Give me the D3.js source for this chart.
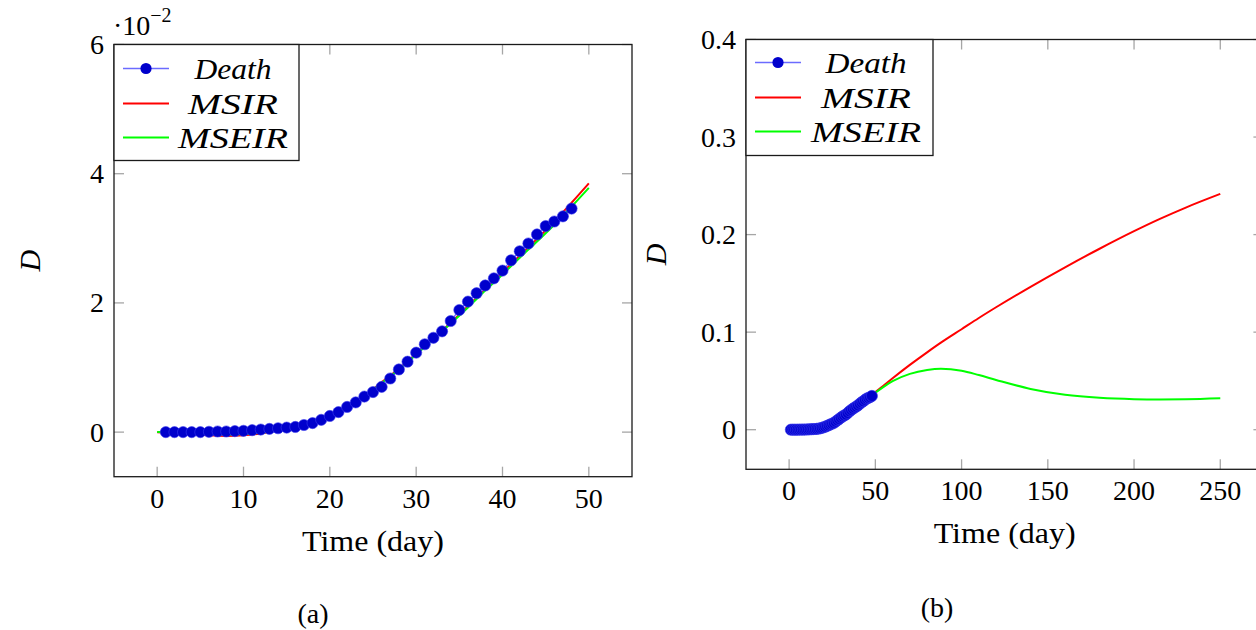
<!DOCTYPE html>
<html><head><meta charset="utf-8">
<script src="https://cdn.jsdelivr.net/npm/d3@7"></script>
<style>
html,body{margin:0;padding:0;background:#fff;}
</style></head>
<body><svg id="c" width="1256" height="630"></svg>
<script>
// ---- data ----
const deathDays = [1,2,3,4,5,6,7,8,9,10,11,12,13,14,15,16,17,18,19,20,21,22,23,24,25,26,27,28,29,30,31,32,33,34,35,36,37,38,39,40,41,42,43,44,45,46,47,48];
const deathVals = [0,0,0,0,0,0.00005,0.0001,0.0001,0.00015,0.0002,0.0003,0.0004,0.0005,0.0006,0.0007,0.0008,0.0011,0.0014,0.0019,0.0025,0.0031,0.0039,0.0046,0.0055,0.0062,0.0070,0.0083,0.0097,0.0109,0.0123,0.0136,0.0146,0.0156,0.0172,0.0189,0.0202,0.0215,0.0227,0.0238,0.0250,0.0266,0.0280,0.0292,0.0306,0.0319,0.0326,0.0334,0.0346];
const modelDays = [0,2,4,6,8,10,12,14,16,18,20,22,24,26,28,30,32,34,36,38,40,42,44,46,48,50,55,60,70,80,88,100,110,120,140,160,180,200,215,230,250];
const msirVals = [0,-0.0001,-0.0003,-0.0005,-0.0006,-0.0005,-0.0002,0.0003,0.0009,0.0017,0.0027,0.0040,0.0056,0.0077,0.0098,0.0121,0.0145,0.0169,0.0195,0.0221,0.0247,0.0273,0.0299,0.0326,0.0355,0.0385,0.0456,0.0527,0.0664,0.0793,0.0892,0.1030,0.1145,0.1255,0.1465,0.1665,0.1855,0.2035,0.2161,0.2277,0.2417];
const mseirVals = [0,0,-0.0001,-0.0003,-0.0004,-0.0003,-0.0001,0.0003,0.0009,0.0017,0.0027,0.0040,0.0056,0.0076,0.0097,0.0120,0.0144,0.0168,0.0193,0.0219,0.0244,0.0270,0.0295,0.0321,0.0349,0.0378,0.0442,0.0497,0.0572,0.0613,0.0626,0.0605,0.0560,0.0510,0.0418,0.0358,0.0327,0.0313,0.0310,0.0312,0.0322];
const leftXTicks = [0,10,20,30,40,50];
const leftYTicks = [0,0.02,0.04,0.06];
const leftYTickLabels = ["0","2","4","6"];
const rightXTicks = [0,50,100,150,200,250];
const rightYTicks = [0,0.1,0.2,0.3,0.4];
const rightYTickLabels = ["0","0.1","0.2","0.3","0.4"];
const legendNames = ["Death","MSIR","MSEIR"];
const seriesColors = {death:"#0000cc", deathLine:"#6b6bff", msir:"#ff0000", mseir:"#00ff00"};
const FONT = "'Liberation Serif', 'Times New Roman', 'DejaVu Serif', serif";

const svg = d3.select("#c");

function txt(sel){ return sel.append("text").attr("font-family",FONT).attr("fill","#000"); }

function panel(cfg){
  const g = svg.append("g");
  const x = d3.scaleLinear().domain(cfg.xDomain).range([cfg.left, cfg.right]);
  const y = d3.scaleLinear().domain(cfg.yDomain).range([cfg.bottom, cfg.top]);
  const clipId = "clip"+cfg.id;
  svg.append("clipPath").attr("id",clipId).append("rect")
    .attr("x",cfg.left).attr("y",cfg.top).attr("width",cfg.right-cfg.left).attr("height",cfg.bottom-cfg.top);
  const tickLen = 10, tickCol = "#a6a6a6";
  const tg = g.append("g").attr("stroke",tickCol).attr("stroke-width",1.3);
  cfg.xTicks.forEach(t=>{
    tg.append("line").attr("x1",x(t)).attr("x2",x(t)).attr("y1",cfg.bottom).attr("y2",cfg.bottom-tickLen);
    tg.append("line").attr("x1",x(t)).attr("x2",x(t)).attr("y1",cfg.top).attr("y2",cfg.top+tickLen);
  });
  cfg.yTicks.forEach(t=>{
    tg.append("line").attr("x1",cfg.left).attr("x2",cfg.left+tickLen).attr("y1",y(t)).attr("y2",y(t));
    tg.append("line").attr("x1",cfg.right).attr("x2",cfg.right-tickLen).attr("y1",y(t)).attr("y2",y(t));
  });
  cfg.xTicks.forEach(t=>{
    txt(g).attr("x",x(t)).attr("y",cfg.bottom+31).attr("text-anchor","middle")
      .attr("font-size",28).text(t);
  });
  cfg.yTicks.forEach((t,i)=>{
    txt(g).attr("x",cfg.left-10).attr("y",y(t)+9.5).attr("text-anchor","end")
      .attr("font-size",28).text(cfg.yLabels[i]);
  });
  const pg = g.append("g").attr("clip-path",`url(#${clipId})`);
  const md = modelDays.map((d,i)=>({d, a:msirVals[i], b:mseirVals[i]})).filter(p=>p.d<=cfg.maxDay);
  const line = d3.line().curve(d3.curveMonotoneX);
  pg.append("path").attr("fill","none").attr("stroke",seriesColors.deathLine).attr("stroke-width",1.3)
    .attr("d", line(deathDays.map((d,i)=>[x(d), y(deathVals[i])])));
  pg.append("path").attr("fill","none").attr("stroke",seriesColors.msir).attr("stroke-width",2)
    .attr("d", line(md.map(p=>[x(p.d), y(p.a)])));
  pg.append("path").attr("fill","none").attr("stroke",seriesColors.mseir).attr("stroke-width",2)
    .attr("d", line(md.map(p=>[x(p.d), y(p.b)])));
  pg.selectAll("circle.m").data(deathDays).enter().append("circle")
    .attr("cx",d=>x(d)).attr("cy",(d,i)=>y(deathVals[i])).attr("r",5.6)
    .attr("fill",seriesColors.death).attr("stroke","#3a3aee").attr("stroke-width",0.6);
  g.append("rect").attr("x",cfg.left).attr("y",cfg.top).attr("width",cfg.right-cfg.left).attr("height",cfg.bottom-cfg.top)
    .attr("fill","none").attr("stroke","#1a1a1a").attr("stroke-width",1.3);
  const L = cfg.legend;
  const lg = g.append("g");
  lg.append("rect").attr("x",cfg.left).attr("y",cfg.top).attr("width",L.w).attr("height",L.h)
    .attr("fill","#fff").attr("stroke","#1a1a1a").attr("stroke-width",1.3);
  const cols = [seriesColors.deathLine, seriesColors.msir, seriesColors.mseir];
  legendNames.forEach((n,i)=>{
    const yy = cfg.top + L.rows[i];
    lg.append("line").attr("x1",L.lx1).attr("x2",L.lx2).attr("y1",yy).attr("y2",yy)
      .attr("stroke",cols[i]).attr("stroke-width", i===0?1.3:2);
    if(i===0) lg.append("circle").attr("cx",(L.lx1+L.lx2)/2).attr("cy",yy).attr("r",5.6).attr("fill",seriesColors.death);
    txt(lg).attr("x",L.tx).attr("y",yy+10).attr("text-anchor","middle")
      .attr("font-size",30).attr("font-style","italic")
      .attr("textLength",L.tw[i]).attr("lengthAdjust","spacingAndGlyphs").text(n);
  });
  txt(g).attr("x",(cfg.left+cfg.right)/2).attr("y",cfg.bottom+74).attr("text-anchor","middle")
    .attr("font-size",29).attr("textLength",142).attr("lengthAdjust","spacingAndGlyphs").text("Time (day)");
  txt(g).attr("transform",`translate(${cfg.ylabX},${(cfg.top+cfg.bottom)/2}) rotate(-90)`)
    .attr("text-anchor","middle").attr("dy",10).attr("font-size",30).attr("font-style","italic").text("D");
  txt(g).attr("x",cfg.capX).attr("y",cfg.capY).attr("text-anchor","middle").attr("font-size",28).text(cfg.caption);
  return {g,x,y};
}

const A = panel({id:"a", left:114, right:632, top:44.5, bottom:476.7, maxDay:50,
  xDomain:[-5,55], yDomain:[-0.0069,0.06], xTicks:leftXTicks, yTicks:leftYTicks, yLabels:leftYTickLabels,
  legend:{w:185, h:116, rows:[24,59,93], lx1:123, lx2:169, tx:233, tw:[77,90,110]},
  ylabX:30, capX:313, capY:623, caption:"(a)"});
const mt = txt(A.g).attr("x",113).attr("y",35).attr("font-size",28);
mt.append("tspan").text("\u00B710");
mt.append("tspan").attr("dy",-13).attr("font-size",20).text("\u22122");

panel({id:"b", left:746, right:1263.4, top:39.5, bottom:469.3, maxDay:250,
  xDomain:[-25,275], yDomain:[-0.0406,0.4], xTicks:rightXTicks, yTicks:rightYTicks, yLabels:rightYTickLabels,
  legend:{w:187, h:116, rows:[23,58,92], lx1:755, lx2:801, tx:866, tw:[81,90,110]},
  ylabX:656, capX:937, capY:617, caption:"(b)"});
</script></body></html>
